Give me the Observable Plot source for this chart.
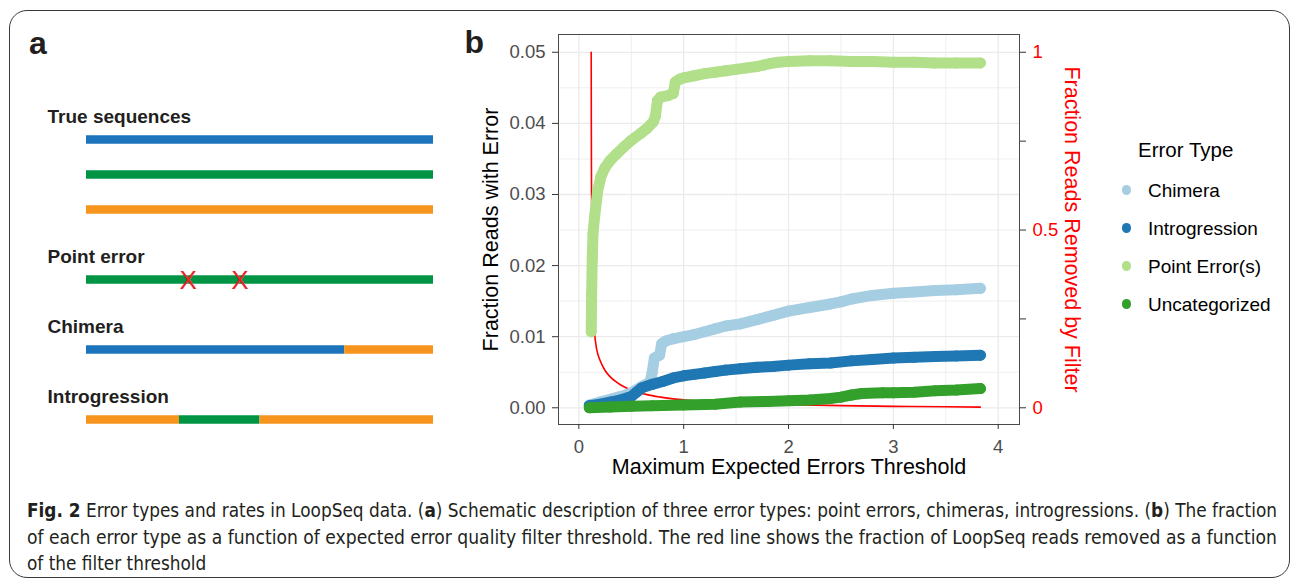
<!DOCTYPE html>
<html><head><meta charset="utf-8">
<script src="https://cdn.jsdelivr.net/npm/d3@7"></script>
<script src="https://cdn.jsdelivr.net/npm/@observablehq/plot@0.6"></script>
<style>
body{margin:0;background:#fff;}
#page{position:relative;width:1293px;height:582px;overflow:hidden;background:#fff;font-family:"Liberation Sans",Arial,Helvetica,sans-serif;color:#1a1a1a;}
.abs{position:absolute;white-space:nowrap;}
.cap{position:absolute;left:27px;white-space:nowrap;font-family:"Liberation Sans Narrow","DejaVu Sans Condensed","Liberation Sans",sans-serif;font-size:19px;line-height:19px;color:#231f20;transform-origin:0 0;}
</style></head><body><div id="page">
<div id="pa" class="abs" style="left:0;top:0"></div>
<div id="pb" class="abs" style="left:460px;top:20px"></div>
<div class="abs" style="left:29px;top:27px;font-size:32px;line-height:32px;font-weight:bold;color:#231f20">a</div>
<div class="abs" style="left:464.5px;top:26px;font-size:32px;line-height:32px;font-weight:bold;color:#231f20">b</div>
<div id="legend"></div>
<div id="caption"></div>
<div class="abs" style="left:9px;top:10px;width:1279px;height:566px;border:1.5px solid #3a3a3a;border-radius:18px;pointer-events:none"></div>
</div>
<script>
// ---------- Panel a: schematic ----------
const rowIds = ["t1","t2","t3","g1","pe","g2","ch","g3","in"];
const seqNames = ["A","B","C"];
const seqColors = ["#1C75BC","#009444","#F7941D"];
const segments = [
  {row:"t1", seq:"A", start:0, end:100},
  {row:"t2", seq:"B", start:0, end:100},
  {row:"t3", seq:"C", start:0, end:100},
  {row:"pe", seq:"B", start:0, end:100},
  {row:"ch", seq:"A", start:0, end:74.4},
  {row:"ch", seq:"C", start:74.4, end:100},
  {row:"in", seq:"C", start:0, end:26.8},
  {row:"in", seq:"B", start:26.8, end:50},
  {row:"in", seq:"C", start:50, end:100}
];
const groupLabels = [
  {row:"t1", label:"True sequences"},
  {row:"pe", label:"Point error"},
  {row:"ch", label:"Chimera"},
  {row:"in", label:"Introgression"}
];
const pointErrorSites = [29.3, 44.2];

// ---------- Panel b: data ----------
const typeNames = ["Chimera","Introgression","Point Error(s)","Uncategorized"];
const typeColors = ["#A6CEE3","#1F78B4","#B2DF8A","#33A02C"];
const chimera = [[0.1,0.0004],[0.2,0.0008],[0.3,0.0012],[0.4,0.0016],[0.5,0.0021],[0.6,0.0030],[0.68,0.0036],[0.70,0.0050],[0.72,0.0070],[0.77,0.0074],[0.79,0.0090],[0.83,0.0094],[0.9,0.0097],[1.0,0.0100],[1.1,0.0103],[1.2,0.0107],[1.3,0.0111],[1.4,0.0115],[1.54,0.0118],[1.7,0.0124],[1.85,0.0130],[2.0,0.0136],[2.2,0.0141],[2.4,0.0146],[2.5,0.0149],[2.6,0.0153],[2.8,0.0158],[3.0,0.0161],[3.2,0.0163],[3.4,0.0165],[3.6,0.0166],[3.83,0.0168]];
const introgression = [[0.1,0.0003],[0.2,0.0005],[0.3,0.0008],[0.4,0.0011],[0.5,0.0016],[0.55,0.0022],[0.6,0.0028],[0.7,0.0033],[0.8,0.0037],[0.9,0.0042],[1.0,0.0045],[1.1,0.0047],[1.2,0.0049],[1.3,0.0051],[1.4,0.0053],[1.54,0.0055],[1.7,0.0057],[1.85,0.0058],[2.0,0.0060],[2.2,0.0062],[2.4,0.0063],[2.6,0.0066],[2.8,0.0068],[3.0,0.0070],[3.2,0.0071],[3.4,0.0072],[3.6,0.0073],[3.83,0.0074]];
const pointError = [[0.118,0.0107],[0.122,0.016],[0.128,0.021],[0.135,0.0245],[0.15,0.0268],[0.18,0.0305],[0.21,0.0325],[0.25,0.0338],[0.30,0.0348],[0.36,0.0357],[0.43,0.0367],[0.50,0.0376],[0.59,0.0386],[0.65,0.0393],[0.71,0.0402],[0.73,0.0410],[0.75,0.0432],[0.78,0.0437],[0.85,0.0439],[0.90,0.0442],[0.92,0.0458],[0.96,0.0462],[1.0,0.0464],[1.1,0.0467],[1.2,0.0470],[1.3,0.0472],[1.4,0.0474],[1.5,0.0476],[1.6,0.0478],[1.7,0.0480],[1.76,0.0482],[1.82,0.0484],[1.9,0.0486],[2.0,0.0487],[2.2,0.0488],[2.4,0.0488],[2.6,0.0487],[2.8,0.0487],[3.0,0.0486],[3.2,0.0486],[3.4,0.0485],[3.6,0.0485],[3.83,0.0485]];
const uncategorized = [[0.1,0.0000],[0.3,0.0001],[0.5,0.0002],[0.7,0.0003],[1.0,0.0004],[1.3,0.0005],[1.54,0.0008],[1.8,0.0009],[2.0,0.0010],[2.2,0.0011],[2.4,0.0013],[2.5,0.0015],[2.6,0.0018],[2.7,0.0020],[2.9,0.0021],[3.0,0.0021],[3.2,0.0022],[3.4,0.0024],[3.6,0.0025],[3.83,0.0027]];
const removedFraction = [[0.118,1.0],[0.119,0.80],[0.121,0.62],[0.124,0.48],[0.128,0.38],[0.134,0.30],[0.142,0.245],[0.15,0.21],[0.17,0.165],[0.2,0.135],[0.25,0.105],[0.3,0.087],[0.35,0.074],[0.4,0.064],[0.46,0.055],[0.55,0.045],[0.65,0.037],[0.78,0.030],[0.9,0.025],[1.07,0.021],[1.3,0.016],[1.6,0.012],[2.0,0.009],[2.5,0.006],[3.0,0.004],[3.5,0.003],[3.83,0.002]];
const xTicks = [0,1,2,3,4];
const xMinor = [0.5,1.5,2.5,3.5];
const yTicks = [0,0.01,0.02,0.03,0.04,0.05];
const yMinor = [0.005,0.015,0.025,0.035,0.045];
const rightTicks = [0,0.25,0.5,0.75,1];
const rightTickLabels = ["0","","0.5","","1"];
const secondaryRatio = 0.05; // right axis 1 == left axis 0.05

const font = '"Liberation Sans", Arial, Helvetica, sans-serif';

// ---------- draw panel a ----------
const pa = Plot.plot({
  width: 460, height: 460,
  marginLeft: 86, marginRight: 27, marginTop: 135, marginBottom: 38,
  x: {domain: [0, 100], axis: null},
  y: {type: "point", domain: rowIds, padding: 0, axis: null},
  color: {domain: seqNames, range: seqColors},
  style: {fontFamily: font, background: "transparent", overflow: "visible"},
  marks: [
    Plot.ruleY(segments, {y: "row", x1: "start", x2: "end", stroke: "seq", strokeWidth: 8.7}),
    Plot.text(pointErrorSites, {x: d => d, y: () => "pe", text: () => "X", fill: "#EC2227", fontSize: 26, dy: 1.5}),
    Plot.text(groupLabels, {y: "row", text: "label", frameAnchor: "left", textAnchor: "start", dx: -39, dy: -23, fontSize: 19, fontWeight: "bold", fill: "#231f20"})
  ]
});
document.getElementById("pa").appendChild(pa);

// ---------- draw panel b ----------
const seriesList = [chimera, introgression, pointError, uncategorized];
const pts = seriesList.flatMap((s, k) => s.map(([x, y]) => ({type: typeNames[k], x, y})));
const redLine = removedFraction.map(([x, f]) => ({x, y: f * secondaryRatio}));
const rightTickPos = rightTicks.map(v => v * secondaryRatio);

const seriesMarks = typeNames.flatMap(t => [
  Plot.line(pts, {filter: d => d.type === t, x: "x", y: "y", stroke: "type", strokeWidth: 11, strokeLinecap: "round", strokeLinejoin: "round"}),
  Plot.dot(pts, {filter: d => d.type === t, x: "x", y: "y", fill: "type", r: 5.5})
]);

const pb = Plot.plot({
  width: 640, height: 470,
  marginLeft: 98, marginRight: 81, marginTop: 14, marginBottom: 66,
  x: {domain: [-0.194, 4.203]},
  y: {domain: [-0.00235, 0.0525]},
  color: {domain: typeNames, range: typeColors},
  style: {fontFamily: font, fontSize: "18.5px", background: "transparent", overflow: "visible", color: "#222"},
  marks: [
    Plot.gridX(xMinor, {stroke: "#ebebeb", strokeOpacity: 1, strokeWidth: 0.8}),
    Plot.gridY(yMinor, {stroke: "#ebebeb", strokeOpacity: 1, strokeWidth: 0.8}),
    Plot.gridX(xTicks, {stroke: "#ebebeb", strokeOpacity: 1, strokeWidth: 1.3}),
    Plot.gridY(yTicks, {stroke: "#ebebeb", strokeOpacity: 1, strokeWidth: 1.3}),
    Plot.line(redLine, {x: "x", y: "y", stroke: "#ff0000", strokeWidth: 1.6, curve: "monotone-x"}),
    ...seriesMarks,
    Plot.frame({stroke: "#4a4a4a", strokeWidth: 1}),
    Plot.axisX(xTicks, {tickSize: 5, tickPadding: 10, tickFormat: d => String(d), label: null, fill: "#4d4d4d", stroke: "#333", fontSize: 18.5}),
    Plot.axisY(yTicks, {anchor: "left", tickSize: 6, tickPadding: 7, tickFormat: d3.format(".2f"), label: null, fill: "#4d4d4d", stroke: "#333", fontSize: 18.5}),
    Plot.axisY(rightTickPos, {anchor: "right", tickSize: 6, tickPadding: 7, label: null, fill: "#ff0000", stroke: "#333", fontSize: 18.5,
      tickFormat: d => rightTickLabels[rightTickPos.findIndex(v => Math.abs(v - d) < 1e-9)]}),
    Plot.text(["Fraction Reads with Error"], {frameAnchor: "left", textAnchor: "middle", dx: -67.5, rotate: -90, fontSize: 21.5, fill: "#000"}),
    Plot.text(["Fraction Reads Removed by Filter"], {frameAnchor: "right", textAnchor: "middle", dx: 52.5, rotate: 90, fontSize: 21.5, fill: "#ff0000"}),
    Plot.text(["Maximum Expected Errors Threshold"], {frameAnchor: "bottom", textAnchor: "middle", dy: 49.5, fontSize: 21.5, fill: "#000"})
  ]
});
document.getElementById("pb").appendChild(pb);

// ---------- legend ----------
const legendTitle = "Error Type";
const lg = document.getElementById("legend");
let html = `<div class="abs" style="left:1138px;top:139.5px;font-size:20.5px;line-height:20.5px;color:#000">${legendTitle}</div>`;
typeNames.forEach((t, i) => {
  html += `<div class="abs" style="left:${1126.7-4.6}px;top:${190 + 38*i - 4.6}px;width:9.2px;height:9.2px;border-radius:50%;background:${typeColors[i]}"></div>`;
  html += `<div class="abs" style="left:1148px;top:${180.6 + 38*i}px;font-size:19px;line-height:19px;color:#000">${t}</div>`;
});
lg.innerHTML = html;

// ---------- caption ----------
const captionLines = [
  '<b>Fig. 2</b> Error types and rates in LoopSeq data. (<b>a</b>) Schematic description of three error types: point errors, chimeras, introgressions. (<b>b</b>) The fraction',
  'of each error type as a function of expected error quality filter threshold. The red line shows the fraction of LoopSeq reads removed as a function',
  'of the filter threshold'
];
const captionTops = [501, 528, 554];
const cap = document.getElementById("caption");
const spans = captionLines.map((l, i) => {
  const s = document.createElement("span");
  s.className = "cap";
  s.style.top = captionTops[i] + "px";
  s.innerHTML = l;
  cap.appendChild(s);
  return s;
});
const targetW = 1250;
const w0 = spans[0].getBoundingClientRect().width;
const w1 = spans[1].getBoundingClientRect().width;
const k0 = targetW / w0, k1 = targetW / w1;
spans[0].style.transform = `scaleX(${k0})`;
spans[1].style.transform = `scaleX(${k1})`;
spans[2].style.transform = `scaleX(${k0})`;
</script>
</body></html>
